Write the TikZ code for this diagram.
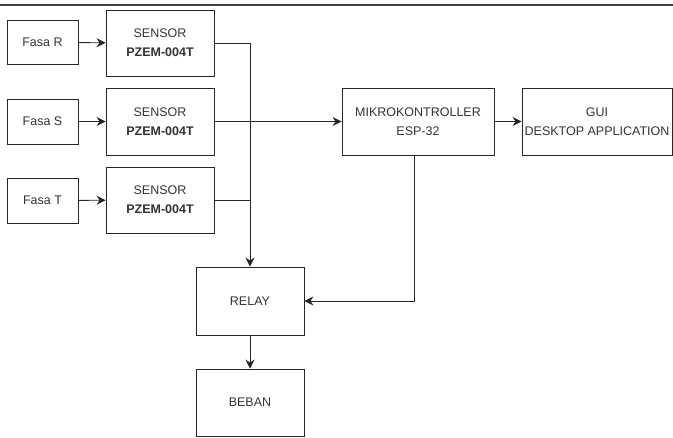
\documentclass[tikz,border=0pt]{standalone}
\usepackage{fontspec}
\setmainfont{Liberation Sans}
\usetikzlibrary{arrows.meta}
\begin{document}
\begin{tikzpicture}[x=1pt,y=-1pt,
  box/.style={draw=black!85, line width=0.9pt, align=center, inner sep=0pt,
    font=\fontsize{12.5}{19}\selectfont, text=black!80},
  wire/.style={draw=black!85, line width=0.9pt},
  arr/.style={wire, -{Stealth[length=9pt,width=9pt,inset=3pt]}}]
\useasboundingbox (0,0) rectangle (673,438);
\draw[black!75, line width=1.6pt] (0,5) -- (673,5);
\node[box, minimum width=71pt, minimum height=44pt] (fR) at (42.5,42.5) {Fasa R};
\node[box, minimum width=71pt, minimum height=45pt] (fS) at (42.5,121.5) {Fasa S};
\node[box, minimum width=71pt, minimum height=45pt] (fT) at (42.5,200.5) {Fasa T};
\node[box, minimum width=108pt, minimum height=66pt] (sR) at (160,43) {SENSOR\\\textbf{PZEM-004T}};
\node[box, minimum width=108pt, minimum height=67pt] (sS) at (160,121.5) {SENSOR\\\textbf{PZEM-004T}};
\node[box, minimum width=108pt, minimum height=66pt] (sT) at (160,200) {SENSOR\\\textbf{PZEM-004T}};
\node[box, minimum width=152pt, minimum height=67pt] (mcu) at (418,121.5) {MIKROKONTROLLER\\ESP-32};
\node[box, minimum width=150pt, minimum height=67pt] (gui) at (597,121.5) {GUI\\DESKTOP APPLICATION};
\node[box, minimum width=108pt, minimum height=68pt] (relay) at (250,301) {RELAY};
\node[box, minimum width=108pt, minimum height=67pt] (beban) at (250,402.5) {BEBAN};
\coordinate (b1) at (250,43);
\coordinate (b3) at (250,200);
\coordinate (m1) at (414,155);
\draw[arr] (fR) -- (sR);
\draw[arr] (fS) -- (sS);
\draw[arr] (fT) -- (sT);
\draw[arr] (sR.east) -- (b1) -- (relay.north);
\draw[wire] (sT.east) -- (b3);
\draw[arr] (sS.east) -- (mcu.west);
\draw[arr] (mcu) -- (gui);
\draw[arr] (m1) |- (relay.east);
\draw[arr] (relay) -- (beban);
\end{tikzpicture}
\end{document}
